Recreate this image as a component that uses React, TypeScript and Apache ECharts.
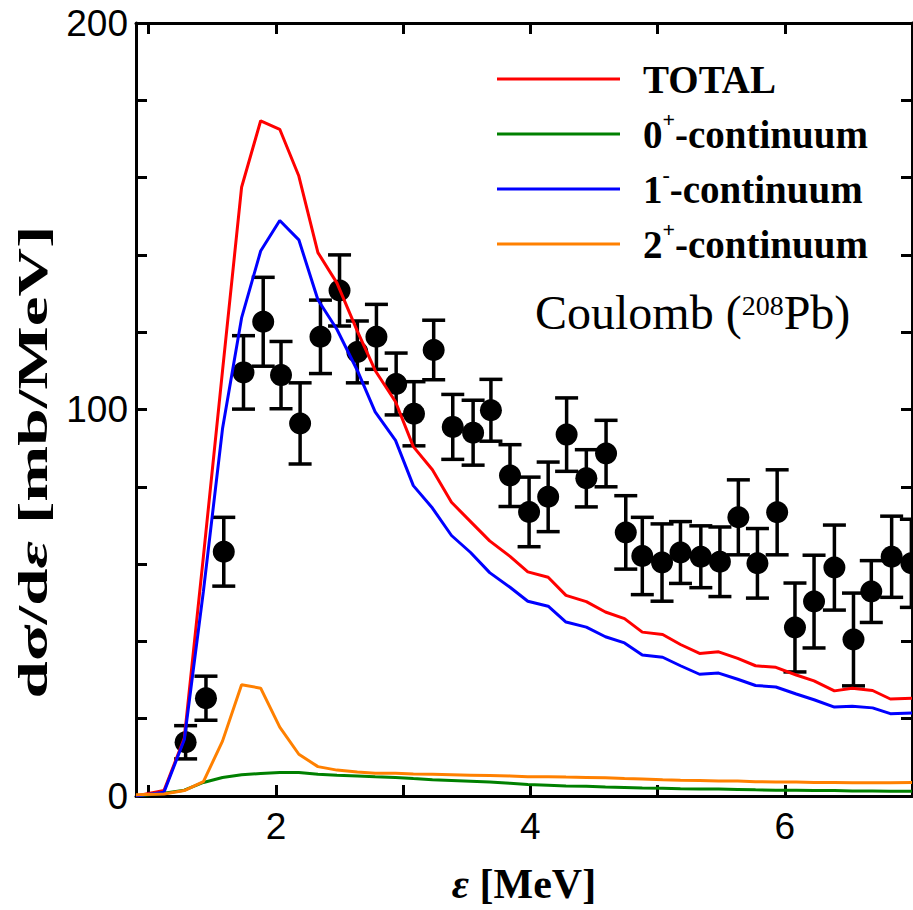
import React, { useEffect, useRef } from "react";
import * as echarts from "echarts";

// ---- axes / ticks ----
const xTickValues = [1, 2, 3, 4, 5, 6];
const xLabelValues = [2, 4, 6];
const yLabelValues = [0, 100, 200];

// ---- experimental data (points with symmetric error bars) ----
const expX = [1.29, 1.45, 1.59, 1.745, 1.9, 2.04, 2.19, 2.35, 2.5, 2.64, 2.79, 2.945, 3.085, 3.24, 3.39, 3.55, 3.69, 3.84, 3.99, 4.14, 4.285, 4.44, 4.595, 4.75, 4.88, 5.035, 5.18, 5.34, 5.49, 5.635, 5.785, 5.94, 6.08, 6.23, 6.39, 6.54, 6.68, 6.84, 6.995];
const expY = [13.9, 25.3, 63.2, 109.6, 122.7, 108.9, 96.4, 118.8, 130.8, 114.9, 118.8, 106.6, 98.9, 115.4, 95.5, 94.0, 99.8, 82.9, 73.5, 77.4, 93.5, 82.2, 88.6, 68.2, 62.1, 60.4, 63.0, 61.9, 60.6, 72.1, 60.2, 73.4, 43.6, 50.3, 59.1, 40.5, 52.9, 61.9, 60.2];
const expErr = [4.3, 5.7, 8.9, 9.5, 11.5, 8.7, 10.5, 9.5, 9.2, 8.0, 8.4, 8.0, 8.3, 7.7, 8.4, 8.4, 8.0, 8.0, 9.0, 9.0, 9.5, 7.4, 8.6, 9.5, 10.0, 10.0, 8.0, 8.0, 9.0, 9.7, 9.0, 11.0, 11.5, 12.0, 11.0, 12.0, 8.0, 10.5, 11.4];

// ---- theory curves ----
const curveX = [0.9, 1.12, 1.28, 1.43, 1.58, 1.73, 1.88, 2.03, 2.18, 2.33, 2.48, 2.64, 2.78, 2.94, 3.08, 3.23, 3.38, 3.53, 3.68, 3.84, 3.98, 4.14, 4.28, 4.44, 4.59, 4.74, 4.88, 5.04, 5.18, 5.33, 5.48, 5.63, 5.77, 5.93, 6.09, 6.23, 6.39, 6.53, 6.69, 6.83, 7.0];
const totalY = [0, 1.4, 15, 62, 110, 157.5, 174.7, 172.5, 160.4, 140.6, 132.7, 120.3, 110.1, 102.0, 90.4, 84.4, 76.0, 71.0, 66.0, 62.0, 58.0, 56.6, 51.9, 50.3, 47.6, 45.9, 42.4, 41.8, 39.2, 36.9, 37.3, 35.6, 33.7, 33.3, 31.3, 29.8, 27.2, 27.9, 27.3, 25.1, 25.3];
const cont0Y = [0, 0.7, 1.5, 3.5, 4.8, 5.5, 5.8, 6.1, 6.1, 5.6, 5.4, 5.2, 5.0, 4.8, 4.5, 4.2, 4.0, 3.8, 3.6, 3.3, 3.0, 2.8, 2.6, 2.5, 2.3, 2.2, 2.1, 2.0, 1.9, 1.8, 1.8, 1.7, 1.6, 1.5, 1.5, 1.4, 1.4, 1.3, 1.3, 1.2, 1.2];
const cont1Y = [0, 1.0, 14.6, 53, 95, 123.7, 141, 148.9, 143.9, 128.4, 120.7, 110.1, 99.4, 92.0, 80.3, 74.5, 67.4, 63.0, 57.8, 54.0, 50.4, 49.1, 45.0, 43.7, 41.2, 39.6, 36.5, 35.9, 33.7, 31.5, 31.8, 30.2, 28.6, 28.2, 26.4, 24.9, 23.0, 23.2, 22.8, 21.3, 21.5];
const cont2Y = [0.3, 0.5, 1.4, 3.7, 14.2, 28.8, 27.9, 17.8, 10.8, 7.6, 6.7, 6.2, 5.9, 5.9, 5.7, 5.6, 5.5, 5.4, 5.3, 5.2, 5.0, 5.0, 4.9, 4.8, 4.7, 4.5, 4.4, 4.2, 4.1, 4.0, 3.9, 3.9, 3.7, 3.6, 3.6, 3.5, 3.5, 3.4, 3.4, 3.4, 3.5];

const seriesNames = ["TOTAL", "0+-continuum", "1--continuum", "2+-continuum"];
const legendLabels = [
  "{b0|TOTAL}{sup| }",
  "{b0|0}{sup|+}{b|-continuum}",
  "{b0|1}{sup|-}{b|-continuum}",
  "{b0|2}{sup|+}{b|-continuum}",
];
const seriesColors = ["#ff0000", "#008000", "#0000ff", "#ff8000"];

export default function App() {
  const ref = useRef<HTMLDivElement>(null);
  useEffect(() => {
    const chart = echarts.init(ref.current!, null, { renderer: "svg" });
    const serif = "'Liberation Serif', 'Times New Roman', serif";
    const sans = "'Liberation Sans', Arial, sans-serif";
    const curves = [totalY, cont0Y, cont1Y, cont2Y];

    const axisCommon = {
      axisLine: { show: true, onZero: false, lineStyle: { color: "#000", width: 3 } },
      splitLine: { show: false },
    };

    const errData = expX.map((x, i) => [x, expY[i] - expErr[i], expY[i] + expErr[i]]);

    const option: any = {
      animation: false,
      backgroundColor: "#fff",
      grid: { left: 136, right: 1, top: 23, bottom: 108 },
      xAxis: [
        {
          type: "value",
          position: "bottom",
          min: 0.9,
          max: 7,
          ...axisCommon,
          axisTick: { show: true, inside: true, length: 11, customValues: xTickValues, lineStyle: { color: "#000", width: 3 } },
          axisLabel: { customValues: xLabelValues, margin: 12, color: "#000", fontFamily: sans, fontSize: 37 },
          name: "{i|ε} [MeV]",
          nameLocation: "middle",
          nameGap: 67,
          nameTextStyle: {
            fontFamily: serif,
            fontWeight: "bold",
            fontSize: 42,
            color: "#000",
            rich: { i: { fontFamily: serif, fontWeight: "bold", fontStyle: "italic", fontSize: 42, color: "#000" } },
          },
        },
        {
          type: "value",
          position: "top",
          min: 0.9,
          max: 7,
          ...axisCommon,
          axisTick: { show: true, inside: true, length: 11, customValues: xTickValues, lineStyle: { color: "#000", width: 3 } },
          axisLabel: { show: false },
        },
      ],
      yAxis: [
        {
          type: "value",
          position: "left",
          min: 0,
          max: 200,
          interval: 20,
          ...axisCommon,
          axisTick: { show: true, inside: true, length: 11, lineStyle: { color: "#000", width: 3 } },
          axisLabel: { customValues: yLabelValues, margin: 8, color: "#000", fontFamily: sans, fontSize: 37 },
        },
        {
          type: "value",
          position: "right",
          min: 0,
          max: 200,
          interval: 20,
          ...axisCommon,
          axisTick: { show: true, inside: true, length: 11, lineStyle: { color: "#000", width: 3 } },
          axisLabel: { show: false },
        },
      ],
      legend: {
        orient: "vertical",
        left: 497,
        top: 53,
        padding: 0,
        itemGap: 3,
        itemWidth: 123,
        itemHeight: 3,
        icon: "rect",
        selectedMode: false,
        data: seriesNames,
        formatter: (name: string) => legendLabels[seriesNames.indexOf(name)],
        textStyle: {
          fontFamily: serif,
          fontWeight: "bold",
          fontSize: 39,
          color: "#000",
          lineHeight: 40,
          rich: {
            b0: { fontFamily: serif, fontWeight: "bold", fontSize: 39, color: "#000", lineHeight: 40, padding: [0, 0, 0, 18] },
            b: { fontFamily: serif, fontWeight: "bold", fontSize: 39, color: "#000", lineHeight: 40 },
            sup: { fontFamily: serif, fontWeight: "bold", fontSize: 22, color: "#000", lineHeight: 40, padding: [0, 0, 30, 0] },
          },
        },
      },
      graphic: [
        {
          type: "text",
          x: 33,
          y: 462,
          rotation: Math.PI / 2,
          scaleX: 1.6,
          style: {
            text: "dσ/d{i|ε} [mb/MeV]",
            fontFamily: serif,
            fontWeight: "bold",
            fontSize: 42,
            fill: "#000",
            align: "center",
            verticalAlign: "middle",
            textAlign: "center",
            textVerticalAlign: "middle",
            rich: { i: { fontFamily: serif, fontWeight: "bold", fontStyle: "italic", fontSize: 42, fill: "#000" } },
          },
        },
        {
          type: "text",
          x: 535,
          y: 312,
          style: {
            text: "Coulomb ({s|208}Pb)",
            fontFamily: serif,
            fontSize: 48,
            fill: "#000",
            align: "left",
            verticalAlign: "middle",
            textAlign: "left",
            textVerticalAlign: "middle",
            rich: { s: { fontFamily: serif, fontSize: 28, fill: "#000", padding: [0, 0, 14, 0] } },
          },
        },
      ],
      series: [
        {
          type: "custom",
          name: "errors",
          silent: true,
          clip: true,
          z: 2,
          encode: { x: 0, y: [1, 2] },
          data: errData,
          renderItem: (params: any, api: any) => {
            const x = api.value(0);
            const lo = api.value(1);
            const hi = api.value(2);
            const pTop = api.coord([x, hi]);
            const pBot = api.coord([x, lo]);
            const hw = 11.5;
            const st = { stroke: "#000", lineWidth: 3.5 };
            return {
              type: "group",
              children: [
                { type: "line", shape: { x1: pTop[0], y1: pTop[1], x2: pBot[0], y2: pBot[1] }, style: st },
                { type: "line", shape: { x1: pTop[0] - hw, y1: pTop[1], x2: pTop[0] + hw, y2: pTop[1] }, style: st },
                { type: "line", shape: { x1: pBot[0] - hw, y1: pBot[1], x2: pBot[0] + hw, y2: pBot[1] }, style: st },
              ],
            };
          },
        },
        {
          type: "scatter",
          name: "data",
          silent: true,
          z: 2,
          symbol: "circle",
          symbolSize: 22,
          itemStyle: { color: "#000", opacity: 1 },
          data: expX.map((x, i) => [x, expY[i]]),
        },
        ...seriesNames.map((name, k) => ({
          type: "line",
          name,
          z: 3,
          silent: true,
          showSymbol: false,
          symbol: "none",
          color: seriesColors[k],
          lineStyle: { color: seriesColors[k], width: 3 },
          data: curveX.map((x, i) => [x, curves[k][i]]),
        })),
      ],
    };
    chart.setOption(option);
    return () => chart.dispose();
  }, []);
  return <div ref={ref} style={{ position: "absolute", left: 0, top: 0, width: 913, height: 910 }} />;
}
